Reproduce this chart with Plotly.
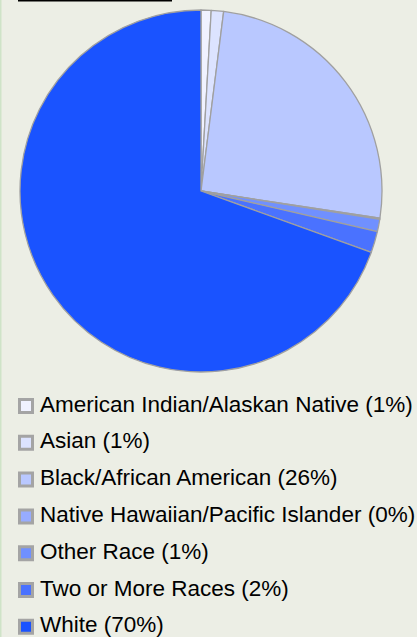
import plotly.graph_objects as go

# ---- data ----
categories = [
    "American Indian/Alaskan Native",
    "Asian",
    "Black/African American",
    "Native Hawaiian/Pacific Islander",
    "Other Race",
    "Two or More Races",
    "White",
]
shares = [0.9, 1.1, 25.4, 0.1, 1.1, 1.9, 69.5]
legend_pct = ["1%", "1%", "26%", "0%", "1%", "2%", "70%"]
colors = ["#F0F2FF", "#DCE3FF", "#B9C8FF", "#97ACFF", "#7090FF", "#4A72FF", "#1A53FF"]

W, H = 417, 637
BG = "#ECEEE5"
FONT = "Liberation Sans, Arial, sans-serif"

fig = go.Figure()

# pie
fig.add_trace(go.Pie(
    labels=categories,
    values=shares,
    sort=False,
    direction="clockwise",
    rotation=0,
    textinfo="none",
    hoverinfo="label+percent",
    marker=dict(colors=colors, line=dict(color="#A0A0A0", width=1.3)),
    domain=dict(x=[20 / W, 382 / W], y=[1 - 372 / H, 1 - 10 / H]),
    showlegend=False,
))

# legend drawn as a scatter on its own axes
idx = list(range(len(categories)))
labels = [f"{c} ({p})" for c, p in zip(categories, legend_pct)]
fig.add_trace(go.Scatter(
    x=[0] * len(idx), y=idx, mode="markers",
    marker=dict(symbol="square", size=13, color=colors,
                line=dict(color="#A4A4A4", width=3)),
    xaxis="x", yaxis="y", showlegend=False, hoverinfo="skip",
))
fig.add_trace(go.Scatter(
    x=[14] * len(idx), y=idx, mode="text", text=labels,
    textposition="middle right",
    textfont=dict(family=FONT, size=22.5, color="#000000"),
    xaxis="x", yaxis="y", showlegend=False, hoverinfo="skip",
))

row0, step = 406.0, 36.8
fig.update_layout(
    width=W, height=H,
    margin=dict(l=0, r=0, t=0, b=0),
    paper_bgcolor=BG, plot_bgcolor="rgba(0,0,0,0)",
    xaxis=dict(range=[-26, W - 26], domain=[0, 1], visible=False, fixedrange=True),
    yaxis=dict(range=[(H - row0) / step, -row0 / step], domain=[0, 1],
               visible=False, fixedrange=True),
    shapes=[
        dict(type="rect", xref="paper", yref="paper",
             x0=18 / W, x1=172 / W, y0=1 - 1.5 / H, y1=1,
             fillcolor="#000000", line=dict(width=0)),
        dict(type="rect", xref="paper", yref="paper",
             x0=0, x1=1.5 / W, y0=0, y1=1,
             fillcolor="#CFE3C8", line=dict(width=0)),
    ],
)

fig.write_html(
    "out.html",
    config={"displayModeBar": False},
    post_script="document.body.style.margin='0';document.body.style.overflow='hidden';"
                "document.body.style.background='" + BG + "';",
)
